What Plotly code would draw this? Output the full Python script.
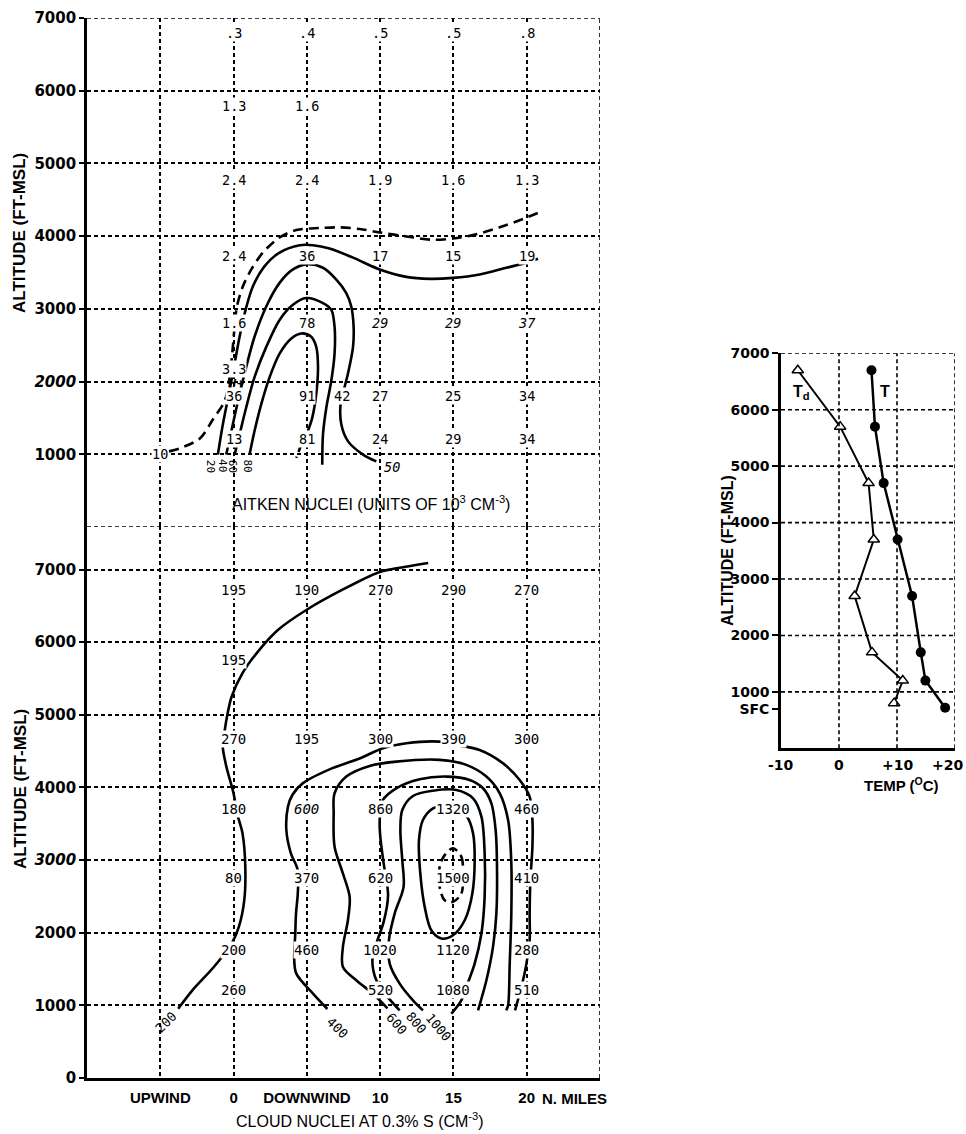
import plotly.graph_objects as go

W, H = 966, 1134

# ---------------- shared column positions (N. miles) ----------------
COL_MILES = [0, 5, 10, 15, 20]

# ---------------- top panel: Aitken nuclei (10^3 cm^-3) ----------------
AIT_ROW_ALT = [6800, 5790, 4770, 3730, 2800, 1800, 1210]
AIT_ROW_TEXT = [
    [".3", ".4", ".5", ".5", ".8"],
    ["1.3", "1.6", "", "", ""],
    ["2.4", "2.4", "1.9", "1.6", "1.3"],
    ["2.4", "36", "17", "15", "19"],
    ["1.6", "78", "<i>29</i>", "<i>29</i>", "<i>37</i>"],
    ["36", "91", "27", "25", "34"],
    ["13", "81", "24", "29", "34"],
]
AIT_EXTRA_TEXT = ["3.3", "42", "10", "<i>50</i>"]
AIT_EXTRA_X = [0, 7.4, -5, 10.8]
AIT_EXTRA_Y = [2175, 1800, 1010, 820]
AIT_LEVEL_TEXT = ["20", "40", "60", "80"]
AIT_LEVEL_X = [-1.6, -0.8, -0.1, 0.95]
AIT_LEVEL_Y = [840, 840, 840, 840]

# isolines (hand analysed)
AIT_C10_X = [-4.4, -3.7, -2.3, -1.4, -0.6, -0.27, -0.09, 0.07, 0.23, 0.64, 1.21, 2.0, 3.14, 4.28,
             5.87, 7.24, 8.6, 9.97, 11.79, 13.61, 14.97, 16.34, 18.16, 19.75, 20.77]
AIT_C10_Y = [1040, 1080, 1218, 1482, 1736, 2060, 2385, 2755, 3033, 3311, 3542, 3774, 3982, 4084,
             4112, 4121, 4098, 4051, 3996, 3950, 3968, 4014, 4121, 4237, 4320]
AIT_C20_X = [-1.07, -0.73, -0.32, 0.07, 0.41, 0.82, 1.32, 2.12, 3.14, 4.51, 5.42, 6.55, 8.15,
             9.97, 11.79, 13.38, 14.97, 16.79, 18.61, 19.98, 20.77]
AIT_C20_Y = [996, 1412, 1829, 2246, 2616, 2986, 3311, 3588, 3774, 3875, 3875, 3829, 3704,
             3542, 3440, 3413, 3426, 3473, 3565, 3635, 3690]
AIT_C40_X = [-0.5, 0.0, 0.41, 0.86, 1.43, 2.23, 3.14, 4.05, 4.96, 6.1, 7.01, 7.69, 8.03, 8.19,
             8.15, 7.8, 7.51, 7.3, 7.35, 7.8, 8.83, 9.74]
AIT_C40_Y = [996, 1459, 1829, 2199, 2616, 3033, 3357, 3542, 3612, 3565, 3403, 3218, 3033, 2755,
             2477, 2107, 1875, 1690, 1412, 1181, 996, 903]
AIT_C60_X = [0.07, 0.41, 0.86, 1.43, 2.23, 3.14, 4.05, 4.96, 6.1, 6.67, 6.89, 6.89, 6.67, 6.33,
             6.1, 6.05]
AIT_C60_Y = [996, 1273, 1644, 2061, 2477, 2848, 3056, 3149, 3079, 2986, 2755, 2385, 2014, 1644,
             1273, 857]
AIT_C80_X = [1.09, 1.43, 1.89, 2.46, 3.14, 3.94, 4.62, 5.3, 5.64, 5.76, 5.64, 5.37, 5.07]
AIT_C80_Y = [996, 1320, 1690, 2061, 2385, 2593, 2662, 2616, 2477, 2199, 1829, 1505, 1320]
AIT_C80_TAIL_X = [4.62, 4.28]
AIT_C80_TAIL_Y = [1135, 950]

# ---------------- bottom panel: cloud nuclei (cm^-3) ----------------
CN_ROW_ALT = [6720, 5760, 4665, 3700, 2747, 1760, 1216]
CN_ROW_TEXT = [
    ["195", "190", "270", "290", "270"],
    ["195", "", "", "", ""],
    ["270", "195", "300", "390", "300"],
    ["180", "<i>600</i>", "860", "1320", "460"],
    ["80", "370", "620", "1500", "410"],
    ["200", "460", "1020", "1120", "280"],
    ["260", "", "520", "1080", "510"],
]
CN_LEVEL_TEXT = ["200", "400", "600", "800", "1000"]
CN_LEVEL_X = [-4.64, 7.07, 11.1, 12.45, 14.0]
CN_LEVEL_Y = [770, 700, 750, 770, 700]
CN_LEVEL_ANGLE = [-45, 45, 50, 50, 50]

CN_C200_X = [13.28, 10.85, 9.87, 7.43, 4.99, 3.04, 1.58, 0.61, -0.13, -0.49, -0.66, -0.74, -0.49,
             0.0, 0.24, 0.61, 0.8, 0.73, 0.36, -0.13, -1.35, -2.81, -3.78]
CN_C200_Y = [7091, 7008, 6961, 6723, 6447, 6171, 5850, 5574, 5252, 4930, 4700, 4562, 4286,
             3919, 3643, 3368, 2907, 2448, 2080, 1851, 1528, 1207, 954]
CN_C400_X = [6.4, 5.42, 4.28, 4.14, 4.21, 4.26, 4.38, 4.38, 3.9, 3.6, 3.71, 4.02, 4.73, 6.55,
             8.6, 10.19, 11.79, 14.06, 15.2, 16.79, 18.38, 19.52, 20.2, 20.39, 20.39, 20.25,
             20.2, 20.2, 19.98, 19.75, 19.3, 19.2]
CN_C400_Y = [950, 1161, 1437, 1621, 1989, 2265, 2540, 2862, 3100, 3414, 3736, 3900, 4060, 4250,
             4400, 4540, 4609, 4631, 4585, 4516, 4333, 4103, 3873, 3551, 3183, 2724,
             2265, 1896, 1575, 1345, 1000, 930]
CN_C600_X = [10.5, 9.51, 8.37, 7.46, 7.46, 7.8, 7.92, 7.46, 6.89, 6.83, 6.89, 7.69, 9.28, 11.1,
             14.06, 15.88, 17.25, 18.16, 18.73, 18.95, 18.95, 18.84, 18.73, 18.6]
CN_C600_Y = [960, 1161, 1345, 1529, 1805, 2172, 2494, 2816, 3184, 3644, 3920, 4150, 4297, 4356,
             4380, 4311, 4150, 3920, 3552, 2954, 2264, 1575, 1000, 930]
CN_C800_X = [11.33, 10.42, 9.74, 9.47, 9.78, 10.24, 10.54, 10.24, 10.01, 9.97, 10.19, 11.1, 12.7,
             14.52, 16.11, 17.02, 17.59, 17.88, 17.97, 17.93, 17.7, 17.25, 16.68]
CN_C800_Y = [931, 1138, 1345, 1621, 1874, 2149, 2517, 2954, 3322, 3552, 3828, 3989, 4113,
             4150, 4104, 3989, 3782, 3414, 2954, 2264, 1805, 1345, 931]
CN_C1000_X = [12.92, 12.24, 11.33, 10.65, 10.6, 10.99, 11.6, 11.51, 11.38, 11.51, 12.24, 13.61,
              15.2, 16.34, 16.91, 17.13, 17.13, 16.91, 16.45, 15.88, 15.54, 14.86]
CN_C1000_Y = [931, 1069, 1299, 1575, 1897, 2264, 2632, 3000, 3414, 3690, 3883, 3956,
              3966, 3851, 3598, 3092, 2494, 1989, 1575, 1253, 1069, 885]
CN_C1200_X = [13.61, 12.92, 12.65, 12.74, 13.04, 13.49, 14.18, 14.97, 15.77, 16.29, 16.45, 16.34,
              15.93, 15.2, 14.52, 13.61]
CN_C1200_Y = [3713, 3552, 3276, 2816, 2356, 2034, 1920, 1966, 2172, 2540, 3000, 3368,
              3598, 3713, 3745, 3713]
CN_C1400_X = [14.97, 15.54, 15.65, 15.54, 14.97, 14.4, 14.06, 14.06, 14.4, 14.97]
CN_C1400_Y = [3161, 3046, 2770, 2540, 2425, 2448, 2632, 2908, 3069, 3161]

X_TICK_VALS = [-5, 0, 5, 10, 15, 20]
X_TICK_TEXT = ["UPWIND", "0", "DOWNWIND", "10", "15", "20"]
ALT_TICKS = [1000, 2000, 3000, 4000, 5000, 6000, 7000]
TOP_ALT_TEXT = ["1000", "<i>2000</i>", "3000", "4000", "5000", "6000", "7000"]
BOT_ALT_TICKS = [0, 1000, 2000, 3000, 4000, 5000, 6000, 7000]
BOT_ALT_TEXT = ["0", "1000", "2000", "<i>3000</i>", "4000", "5000", "6000", "7000"]

# ---------------- right panel: temperature sounding ----------------
TD_ALT = [6700, 5700, 4700, 3700, 2700, 1700, 1200, 800]
TD_C = [-7.1, 0.2, 5.1, 6.0, 2.7, 5.7, 11.0, 9.5]
T_ALT = [6700, 5700, 4700, 3700, 2700, 1700, 1200, 720]
T_C = [5.6, 6.2, 7.7, 10.1, 12.6, 14.1, 14.9, 18.3]
TEMP_TICKS = [-10, 0, 10, 20]
TEMP_TEXT = ["-10", "0", "+10", "+20"]
SND_ALT_TICKS = [700, 1000, 2000, 3000, 4000, 5000, 6000, 7000]
SND_ALT_TEXT = ["SFC", "1000", "2000", "3000", "4000", "5000", "6000", "7000"]
SND_GRID_ALT = [1000, 2000, 3000, 4000, 5000, 6000, 7000]
SND_GRID_T = [0, 10, 20]


def px_dom(a, b, total):
    return [a / total, b / total]


def py_dom(top, bottom):
    return [1 - bottom / H, 1 - top / H]


fig = go.Figure()

LINE = dict(color="black", width=2.6, shape="spline", smoothing=0.9)


def contour(x, y, xa, ya, dash="solid"):
    fig.add_trace(go.Scatter(x=x, y=y, mode="lines", xaxis=xa, yaxis=ya,
                             line=dict(LINE, dash=dash), hoverinfo="skip", showlegend=False))


contour(AIT_C10_X, AIT_C10_Y, "x", "y", dash="10px,6px")
for cx, cy in [(AIT_C20_X, AIT_C20_Y), (AIT_C40_X, AIT_C40_Y), (AIT_C60_X, AIT_C60_Y),
               (AIT_C80_X, AIT_C80_Y)]:
    contour(cx, cy, "x", "y")
contour(AIT_C80_TAIL_X, AIT_C80_TAIL_Y, "x", "y", dash="8px,5px")

for cx, cy in [(CN_C200_X, CN_C200_Y), (CN_C400_X, CN_C400_Y), (CN_C600_X, CN_C600_Y),
               (CN_C800_X, CN_C800_Y), (CN_C1000_X, CN_C1000_Y), (CN_C1200_X, CN_C1200_Y)]:
    contour(cx, cy, "x2", "y2")
contour(CN_C1400_X, CN_C1400_Y, "x2", "y2", dash="9px,5px")

# sounding
fig.add_trace(go.Scatter(x=TD_C, y=TD_ALT, mode="lines+markers", xaxis="x3", yaxis="y3",
                         line=dict(color="black", width=2),
                         marker=dict(symbol="triangle-up", size=10, color="white",
                                     line=dict(color="black", width=1.5)),
                         showlegend=False, hoverinfo="skip"))
fig.add_trace(go.Scatter(x=T_C, y=T_ALT, mode="lines+markers", xaxis="x3", yaxis="y3",
                         line=dict(color="black", width=2.5),
                         marker=dict(symbol="circle", size=10, color="black"),
                         showlegend=False, hoverinfo="skip"))

NUMFONT_TOP = dict(family="DejaVu Sans Mono", size=13.5, color="black")
NUMFONT_BOT = dict(family="DejaVu Sans Mono", size=14, color="black")
ann = []


def label(text, x, y, xref, yref, angle=0, font=NUMFONT_TOP, bg="white"):
    if not text:
        return
    ann.append(dict(text=text, x=x, y=y, xref=xref, yref=yref, showarrow=False,
                    font=font, textangle=angle, bgcolor=bg, borderpad=0,
                    xanchor="center", yanchor="middle"))


for alt, row in zip(AIT_ROW_ALT, AIT_ROW_TEXT):
    for xm, t in zip(COL_MILES, row):
        label(t, xm, alt, "x", "y")
for t, xm, alt in zip(AIT_EXTRA_TEXT, AIT_EXTRA_X, AIT_EXTRA_Y):
    label(t, xm, alt, "x", "y")
for t, xm, alt in zip(AIT_LEVEL_TEXT, AIT_LEVEL_X, AIT_LEVEL_Y):
    label(t, xm, alt, "x", "y", angle=90, bg="rgba(0,0,0,0)", font=dict(NUMFONT_TOP, size=11))
# break marks where the outer isolines cross the 2000 ft level
label("<i>H+</i>", 0.2, 1975, "x", "y", bg="rgba(0,0,0,0)",
      font=dict(family="DejaVu Sans", size=10, color="black", weight="bold"))

for alt, row in zip(CN_ROW_ALT, CN_ROW_TEXT):
    for xm, t in zip(COL_MILES, row):
        label(t, xm, alt, "x2", "y2", font=NUMFONT_BOT)
for t, xm, alt, a in zip(CN_LEVEL_TEXT, CN_LEVEL_X, CN_LEVEL_Y, CN_LEVEL_ANGLE):
    label(t, xm, alt, "x2", "y2", angle=a, bg="rgba(0,0,0,0)", font=dict(NUMFONT_BOT, size=13))

BOLD = dict(family="Liberation Sans", size=17, color="black", weight="bold")
TXT = dict(family="Liberation Sans", size=16, color="black")
TICKY = dict(family="DejaVu Sans", size=15, color="black", weight="bold")
TICKX = dict(family="Liberation Sans", size=15, color="black", weight="bold")


def paper_text(text, px, py, font, angle=0, xanchor="center"):
    ann.append(dict(text=text, x=px / W, y=1 - py / H, xref="paper", yref="paper",
                    textangle=angle, showarrow=False, font=font,
                    xanchor=xanchor, yanchor="middle"))


# axis titles and panel captions
paper_text("ALTITUDE (FT-MSL)", 20, 233, BOLD, angle=-90)
paper_text("ALTITUDE (FT-MSL)", 20, 789, BOLD, angle=-90)
paper_text("ALTITUDE (FT-MSL)", 727, 551, dict(BOLD, size=16), angle=-90)
paper_text("AITKEN NUCLEI (UNITS OF 10<sup>3</sup> CM<sup>-3</sup>)", 371, 503, TXT)
paper_text("CLOUD NUCLEI AT 0.3% S (CM<sup>-3</sup>)", 360, 1120, TXT)
paper_text("TEMP (<sup>O</sup>C)", 901, 784, dict(BOLD, size=15))
ann.append(dict(text="N. MILES", x=20, y=1 - 1098 / H, xref="x2", yref="paper", xanchor="left",
                yanchor="middle", xshift=13, showarrow=False, font=TICKX))
# temperature tick labels (the last one is kept inside the page)
for i, (t, s) in enumerate(zip(TEMP_TICKS, TEMP_TEXT)):
    last = i == len(TEMP_TICKS) - 1
    ann.append(dict(text=s, x=t, y=1 - 765 / H, xref="x3", yref="paper",
                    xanchor="right" if last else "center", yanchor="middle",
                    xshift=10 if last else 0, showarrow=False, font=dict(TICKY, size=14)))
ann.append(dict(text="T<sub>d</sub>", x=-6.4, y=6300, xref="x3", yref="y3", showarrow=False,
                font=dict(BOLD, size=16)))
ann.append(dict(text="T", x=7.9, y=6330, xref="x3", yref="y3", showarrow=False,
                font=dict(BOLD, size=16)))

GRID = dict(showgrid=True, gridcolor="black", gridwidth=1.6, griddash="4px,3px", zeroline=False,
            automargin=False)

top_y = py_dom(18, 527)
bot_y = py_dom(526, 1078)
left_x = px_dom(87, 600, W)

fig.update_layout(
    template="none",
    width=W, height=H, margin=dict(l=0, r=0, t=0, b=0, pad=0, autoexpand=False),
    paper_bgcolor="white", plot_bgcolor="white", showlegend=False,
    xaxis=dict(domain=left_x, range=[-10, 25], anchor="y", tickvals=X_TICK_VALS,
               showticklabels=False, ticks="", showline=False, **GRID),
    yaxis=dict(domain=top_y, range=[0, 7000], anchor="x", tickvals=ALT_TICKS,
               ticktext=TOP_ALT_TEXT, tickfont=TICKY, ticks="outside", ticklen=5,
               tickwidth=1.5, tickcolor="black", showline=True, linewidth=2.6,
               linecolor="black", **GRID),
    xaxis2=dict(domain=left_x, range=[-10, 25], anchor="y2", tickvals=X_TICK_VALS,
                ticktext=X_TICK_TEXT, tickfont=TICKX, ticks="", ticklen=0,
                ticklabelstandoff=4,
                showline=True, linewidth=2.6, linecolor="black", **GRID),
    yaxis2=dict(domain=bot_y, range=[0, 7600], anchor="x2", tickvals=BOT_ALT_TICKS,
                ticktext=BOT_ALT_TEXT, tickfont=TICKY, ticks="outside", ticklen=5,
                tickwidth=1.5, tickcolor="black", showline=True, linewidth=2.6,
                linecolor="black", **GRID),
    xaxis3=dict(domain=px_dom(781, 955, W), range=[-10, 20], anchor="y3", tickvals=TEMP_TICKS,
                showticklabels=False, ticks="", showgrid=False,
                zeroline=False, showline=True, linewidth=2.6, linecolor="black",
                automargin=False),
    yaxis3=dict(domain=py_dom(353.3, 748.3), range=[0, 7000], anchor="x3",
                tickvals=SND_ALT_TICKS, ticktext=SND_ALT_TEXT, tickfont=dict(TICKY, size=14),
                ticks="outside", ticklen=6, tickwidth=1.8, tickcolor="black", showgrid=False,
                zeroline=False, showline=True, linewidth=2.6, linecolor="black",
                automargin=False),
    annotations=ann,
)

DASH = dict(color="black", width=1.6, dash="4px,3px")
shapes = []
# panel borders (top / right) for the two left panels
shapes.append(dict(type="line", xref="x", yref="y", x0=-10, x1=25, y0=7000, y1=7000, line=DASH))
shapes.append(dict(type="line", xref="x", yref="y", x0=25, x1=25, y0=0, y1=7000, line=DASH))
shapes.append(dict(type="line", xref="x2", yref="y2", x0=-10, x1=25, y0=7600, y1=7600, line=DASH))
shapes.append(dict(type="line", xref="x2", yref="y2", x0=25, x1=25, y0=0, y1=7600, line=DASH))
# sounding grid
for a in SND_GRID_ALT:
    shapes.append(dict(type="line", xref="x3", yref="y3", x0=-10, x1=20, y0=a, y1=a, line=DASH))
for t in SND_GRID_T:
    shapes.append(dict(type="line", xref="x3", yref="y3", x0=t, x1=t, y0=0, y1=7000, line=DASH))
fig.update_layout(shapes=shapes)

# the page's default body margin would shift the whole figure by 8 px
fig.write_html("out.html", config={"displayModeBar": False},
               post_script="document.body.style.margin='0px';document.body.style.overflow='hidden';")
